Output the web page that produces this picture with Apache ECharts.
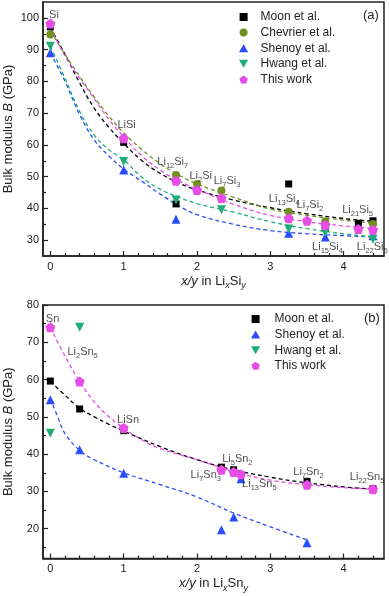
<!DOCTYPE html>
<html>
<head>
<meta charset="utf-8">
<script src="https://cdn.jsdelivr.net/npm/echarts@6/dist/echarts.min.js"></script>
<style>
  html, body { margin: 0; padding: 0; background: #fff; }
  #chart { width: 389px; height: 596px; }
</style>
</head>
<body>
<div id="chart"></div>
<script>
/* ---------- panel (a): Li-Si, points as [x/y, B] ---------- */
const siMoon     = [[0, 97.2], [1, 60.8], [1.714, 41.4], [3.25, 47.7], [3.75, 33.8], [4.2, 35.3], [4.4, 36.1]];
const siChevrier = [[0, 94.8], [1.714, 50.5], [2, 47.7], [2.333, 45.6], [3.25, 38.9], [3.75, 35.9], [4.4, 35.1]];
const siShenoy   = [[0, 89.0], [1, 52.1], [1.714, 36.6], [3.25, 32.2], [3.75, 31.0], [4.4, 31.4]];
const siHwang    = [[0, 91.1], [1, 54.8], [1.714, 42.6], [2.333, 39.6], [3.25, 33.5], [3.75, 32.4], [4.4, 30.3]];
const siThisWork = [[0, 98.2], [1, 62.1], [1.714, 48.7], [2, 45.8], [2.333, 43.3], [3.25, 36.9], [3.5, 36.1], [3.75, 34.8], [4.2, 33.5], [4.4, 33.3]];

// dashed fit curves
const siMoonFit     = [[0, 97], [0.2, 88.5], [0.4, 79.5], [0.6, 71.5], [0.8, 65.5], [1, 60.5], [1.25, 55], [1.5, 51], [1.75, 48], [2, 45.8], [2.5, 42.6], [3, 40.2], [3.5, 38.3], [4, 36.8], [4.4, 35.9]];
const siChevrierFit = [[0, 96], [0.2, 88.5], [0.4, 81.5], [0.6, 75], [0.8, 69], [1, 63.8], [1.25, 58.5], [1.5, 54], [1.75, 50.5], [2, 47.7], [2.5, 43.5], [3, 39.8], [3.5, 37.8], [4, 36.3], [4.4, 35.3]];
const siShenoyFit   = [[0, 89], [0.2, 80], [0.4, 69.5], [0.6, 61.5], [0.8, 56.5], [1, 52.4], [1.25, 48.5], [1.5, 44.5], [1.75, 40.8], [2, 38], [2.5, 35], [3, 33], [3.5, 32], [4, 31.4], [4.4, 31]];
const siHwangFit    = [[0, 91], [0.2, 81], [0.4, 70.5], [0.6, 63], [0.8, 58.5], [1, 55.3], [1.25, 49.8], [1.5, 46], [1.75, 43.5], [2, 41.5], [2.5, 38.8], [3, 35.8], [3.5, 33.6], [4, 32], [4.4, 31]];
const siThisWorkFit = [[0, 97], [0.2, 88], [0.4, 81], [0.6, 74.5], [0.8, 68], [1, 62.5], [1.25, 56.5], [1.5, 52], [1.75, 48.7], [2, 46], [2.5, 41.3], [3, 37.8], [3.5, 35.8], [4, 34.5], [4.4, 33.7]];

const siPhases  = ['Si', 'LiSi', 'Li12Si7', 'Li2Si', 'Li7Si3', 'Li13Si4', 'Li7Si2', 'Li21Si5', 'Li15Si4', 'Li22Si5'];
const siPhaseAt = [[0.05, 100.9], [1.04, 66.4], [1.67, 54.6], [2.05, 50.3], [2.41, 48.5], [3.19, 43.0], [3.54, 41.1], [4.19, 39.5], [3.78, 27.7], [4.39, 27.7]];

/* ---------- panel (b): Li-Sn ---------- */
const snMoon     = [[0, 59.6], [0.4, 52.1], [1, 46.3], [2.333, 36.5], [2.5, 35.8], [3.5, 32.7], [4.4, 30.7]];
const snShenoy   = [[0, 54.6], [0.4, 41.2], [1, 34.9], [2.333, 19.7], [2.5, 23.1], [2.6, 33.4], [3.5, 16.2]];
const snHwang    = [[0, 45.6], [0.4, 74.0]];
const snThisWork = [[0, 74.0], [0.4, 59.5], [1, 47.0], [2.333, 35.8], [2.5, 35.2], [2.6, 34.6], [3.5, 31.8], [4.4, 30.6]];

const snMoonFit     = [[0, 59.5], [0.2, 55.8], [0.4, 52.3], [0.6, 50], [0.8, 48], [1, 46.2], [1.5, 42], [2, 38.5], [2.5, 35.8], [3, 33.8], [3.5, 32.3], [4, 31.2], [4.4, 30.6]];
const snShenoyFit   = [[0, 55], [0.1, 50], [0.2, 45.5], [0.4, 41], [0.6, 38.5], [1, 35], [1.5, 31.8], [2, 28.5], [2.5, 24.2], [3, 20.5], [3.5, 17]];
const snThisWorkFit = [[0, 74], [0.2, 66.3], [0.4, 59.5], [0.6, 54], [0.8, 50], [1, 47], [1.25, 43.8], [1.5, 41.5], [2, 38.5], [2.5, 35.3], [3, 33], [3.5, 31.8], [4, 31], [4.4, 30.6]];

const snPhases  = ['Sn', 'Li2Sn5', 'LiSn', 'Li5Sn2', 'Li7Sn3', 'Li13Sn5', 'Li7Sn2', 'Li22Sn5'];
const snPhaseAt = [[0.03, 76.3], [0.44, 67.5], [1.06, 49.2], [2.55, 38.7], [2.12, 34.5], [2.85, 32.0], [3.52, 35.1], [4.32, 34.0]];

/* ---------- ticks ---------- */
const xTicks  = [0, 1, 2, 3, 4];
const xMinor  = [0.2, 0.4, 0.6, 0.8, 1.2, 1.4, 1.6, 1.8, 2.2, 2.4, 2.6, 2.8, 3.2, 3.4, 3.6, 3.8, 4.2, 4.4];
const yTicksA = [30, 40, 50, 60, 70, 80, 90, 100];
const yMinorA = [35, 45, 55, 65, 75, 85, 95];
const yTicksB = [20, 30, 40, 50, 60, 70, 80];
const yMinorB = [15, 25, 35, 45, 55, 65, 75];

/* ---------- styles ---------- */
const FONT = '"Liberation Sans", Arial, sans-serif';
const INK = '#222';
// paths stay undistorted in the legend, built-in rect/triangle would stretch
const SQUARE   = 'path://M0,0 L100,0 L100,100 L0,100 Z';
const UP_TRI   = 'path://M50,0 L100,87 L0,87 Z';
const DOWN_TRI = 'path://M0,0 L100,0 L50,87 Z';
const PENTAGON = 'path://M50,0 L97.6,34.5 L79.4,90.5 L20.6,90.5 L2.4,34.5 Z';

const STYLE = {
  'Moon et al.':     { color: '#000000', symbol: SQUARE,   size: 7 },
  'Chevrier et al.': { color: '#6f8f1f', symbol: 'circle', size: 8 },
  'Shenoy et al.':   { color: '#2a4cff', symbol: UP_TRI,   size: 9 },
  'Hwang et al.':    { color: '#1fae78', symbol: DOWN_TRI, size: 9 },
  'This work':       { color: '#e64ce6', symbol: PENTAGON, size: 10 }
};

function subscripted(name) {
  return name.replace(/(\d+)/g, '{s|$1}');
}

function pointSeries(name, data, gi) {
  const st = STYLE[name];
  return {
    name, type: 'scatter', data,
    xAxisIndex: gi * 2, yAxisIndex: gi * 2,
    symbol: st.symbol, symbolSize: st.size,
    itemStyle: { color: st.color, opacity: 1 },
    z: 4
  };
}

function fitSeries(name, data, gi) {
  return {
    name: name + ' fit', type: 'line', data,
    xAxisIndex: gi * 2, yAxisIndex: gi * 2,
    smooth: 0.4, showSymbol: false, symbol: 'none',
    lineStyle: { color: STYLE[name].color, width: 1.3, type: [4, 3] },
    z: 2, silent: true
  };
}

function labelSeries(names, at, gi) {
  return {
    name: 'phases ' + gi, type: 'scatter',
    xAxisIndex: gi * 2, yAxisIndex: gi * 2,
    data: names.map((n, i) => ({ value: at[i], name: n })),
    symbolSize: 0, silent: true, z: 5,
    label: {
      show: true, position: 'inside',
      formatter: p => subscripted(p.name),
      fontFamily: FONT, fontSize: 11, color: INK, lineHeight: 16,
      rich: { s: { fontFamily: FONT, fontSize: 7.5, color: INK, verticalAlign: 'bottom', lineHeight: 16 } }
    }
  };
}

function xAxes(gi, element) {
  return [{
    gridIndex: gi, type: 'value', min: -0.1, max: 4.55, position: 'bottom',
    axisLine: { onZero: false, lineStyle: { color: INK, width: 1.6 } },
    axisTick: { inside: true, length: 5, customValues: xTicks, lineStyle: { color: INK, width: 1.2 } },
    axisLabel: { customValues: xTicks, fontFamily: FONT, fontSize: 11, color: INK, margin: 5 },
    splitLine: { show: false },
    name: '{i|x/y} in Li{si|x}' + element + '{si|y}',
    nameLocation: 'middle', nameGap: 16, nameMoveOverlap: false,
    nameTextStyle: {
      fontFamily: FONT, fontSize: 13, color: INK, lineHeight: 18,
      rich: {
        i:  { fontFamily: FONT, fontSize: 13, fontStyle: 'italic', color: INK, lineHeight: 18 },
        si: { fontFamily: FONT, fontSize: 9, fontStyle: 'italic', color: INK, verticalAlign: 'bottom', lineHeight: 18 }
      }
    }
  }, {
    gridIndex: gi, type: 'value', min: -0.1, max: 4.55, position: 'bottom',
    axisLine: { show: false, onZero: false },
    axisTick: { inside: true, length: 3, customValues: xMinor, lineStyle: { color: INK, width: 1.2 } },
    axisLabel: { show: false }, splitLine: { show: false }
  }];
}

function yAxes(gi, min, max, ticks, minor) {
  return [{
    gridIndex: gi, type: 'value', min, max, position: 'left',
    axisLine: { onZero: false, lineStyle: { color: INK, width: 1.6 } },
    axisTick: { inside: true, length: 5, customValues: ticks, lineStyle: { color: INK, width: 1.2 } },
    axisLabel: { customValues: ticks, fontFamily: FONT, fontSize: 11, color: INK, margin: 4 },
    splitLine: { show: false },
    name: 'Bulk modulus {i|B} (GPa)',
    nameLocation: 'middle', nameGap: 26, nameMoveOverlap: false,
    nameTextStyle: {
      fontFamily: FONT, fontSize: 13, color: INK, lineHeight: 18,
      rich: { i: { fontFamily: FONT, fontSize: 13, fontStyle: 'italic', color: INK, lineHeight: 18 } }
    }
  }, {
    gridIndex: gi, type: 'value', min, max, position: 'left',
    axisLine: { show: false, onZero: false },
    axisTick: { inside: true, length: 3, customValues: minor, lineStyle: { color: INK, width: 1.2 } },
    axisLabel: { show: false }, splitLine: { show: false }
  }];
}

function legend(names, left, top, itemWidth) {
  return {
    data: names, orient: 'vertical', left, top,
    itemWidth, itemHeight: 8, itemGap: 3.6, padding: 0,
    selectedMode: false,
    textStyle: { fontFamily: FONT, fontSize: 12, color: INK }
  };
}

const GRID = { left: 43, width: 341, show: true, borderColor: INK, borderWidth: 1.5,
  backgroundColor: 'transparent', containLabel: false, outerBoundsMode: 'none' };

const chart = echarts.init(document.getElementById('chart'));
chart.setOption({
  animation: false,
  backgroundColor: '#fff',
  grid: [
    { ...GRID, top: 2, height: 254 },
    { ...GRID, top: 305, height: 253.5 }
  ],
  title: [
    { text: '(a)', left: 363, top: 9, padding: 0, textStyle: { fontFamily: FONT, fontSize: 13, fontWeight: 'normal', color: INK } },
    { text: '(b)', left: 364, top: 312, padding: 0, textStyle: { fontFamily: FONT, fontSize: 13, fontWeight: 'normal', color: INK } }
  ],
  legend: [
    legend(['Moon et al.', 'Chevrier et al.', 'Shenoy et al.', 'Hwang et al.', 'This work'], 239, 11, 24),
    legend(['Moon et al.', 'Shenoy et al.', 'Hwang et al.', 'This work'], 251, 313, 28)
  ],
  xAxis: [...xAxes(0, 'Si'), ...xAxes(1, 'Sn')],
  yAxis: [...yAxes(0, 25, 105, yTicksA, yMinorA), ...yAxes(1, 12, 80, yTicksB, yMinorB)],
  series: [
    fitSeries('Moon et al.', siMoonFit, 0),
    fitSeries('Chevrier et al.', siChevrierFit, 0),
    fitSeries('Shenoy et al.', siShenoyFit, 0),
    fitSeries('Hwang et al.', siHwangFit, 0),
    fitSeries('This work', siThisWorkFit, 0),
    pointSeries('Moon et al.', siMoon, 0),
    pointSeries('Chevrier et al.', siChevrier, 0),
    pointSeries('Shenoy et al.', siShenoy, 0),
    pointSeries('Hwang et al.', siHwang, 0),
    pointSeries('This work', siThisWork, 0),
    labelSeries(siPhases, siPhaseAt, 0),

    fitSeries('Moon et al.', snMoonFit, 1),
    fitSeries('Shenoy et al.', snShenoyFit, 1),
    fitSeries('This work', snThisWorkFit, 1),
    pointSeries('Moon et al.', snMoon, 1),
    pointSeries('Shenoy et al.', snShenoy, 1),
    pointSeries('Hwang et al.', snHwang, 1),
    pointSeries('This work', snThisWork, 1),
    labelSeries(snPhases, snPhaseAt, 1)
  ]
});
</script>
</body>
</html>
